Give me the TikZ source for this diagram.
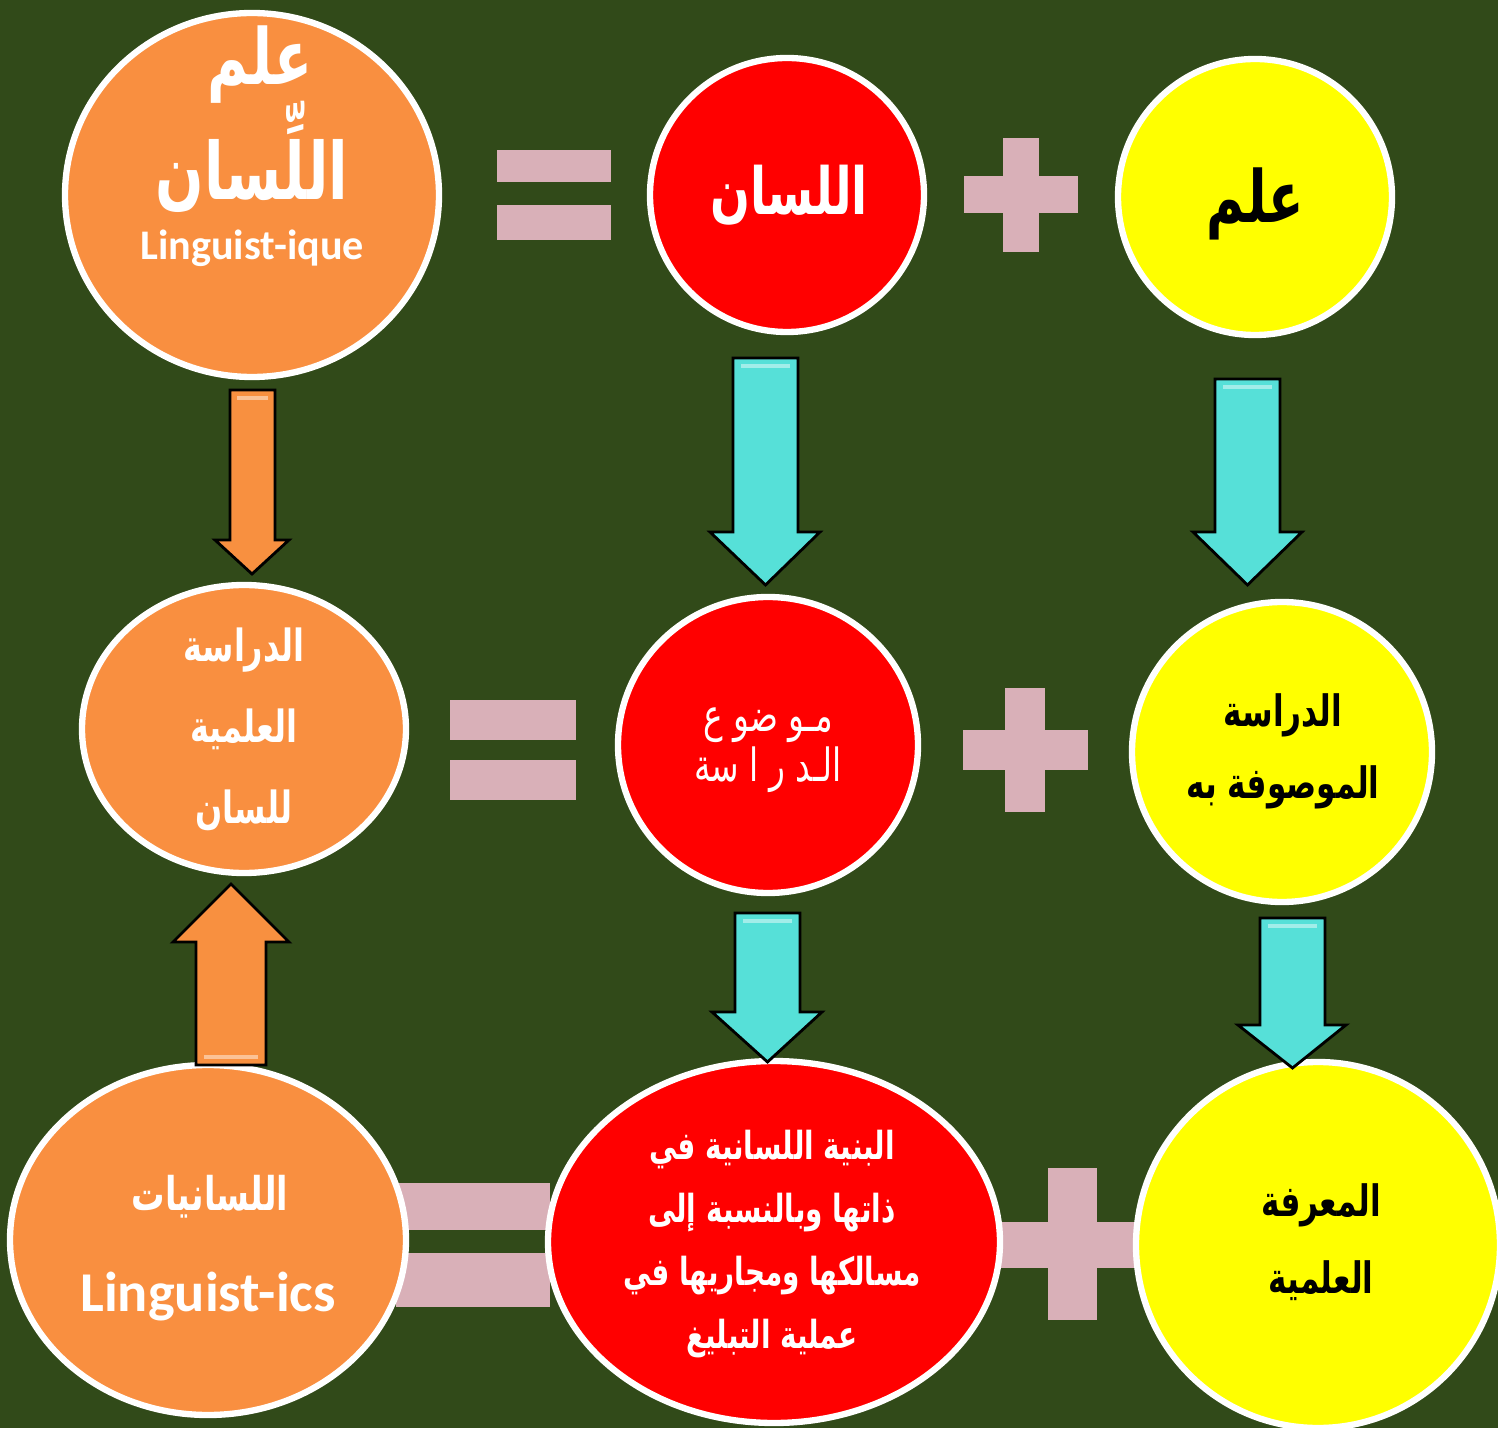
\documentclass[tikz,border=0pt]{standalone}
\usepackage{fontspec}
\setmainfont{Carlito}
\newfontfamily\arabicfont[Script=Arabic,FakeStretch=0.72]{DejaVu Sans}
\TeXXeTstate=1
\usetikzlibrary{shapes.geometric}
\definecolor{bgreen}{RGB}{49,74,25}
\definecolor{ringorange}{RGB}{249,143,64}
\definecolor{ringred}{RGB}{255,0,0}
\definecolor{ringyellow}{RGB}{255,255,0}
\definecolor{barpink}{RGB}{217,176,184}
\definecolor{arrowcyan}{RGB}{86,224,216}
\definecolor{arroworange}{RGB}{248,144,64}

\begin{document}
\begin{tikzpicture}[x=1cm,y=1cm,
  ring/.style={ellipse,draw=white,line width=1.8pt,inner sep=0pt},
  cyanarrow/.style={fill=arrowcyan,draw=black,line width=0.8pt},
  orangearrow/.style={fill=arroworange,draw=black,line width=0.8pt},
  shine/.style={draw=white,opacity=0.45,line width=1.2pt}]
  \useasboundingbox (0,0) rectangle (14.98,14.28);
  \clip (0,0) rectangle (14.98,14.28);
  \fill[bgreen] (0,0) rectangle (14.98,14.28);
  % = and + signs, behind the circles
  \fill[barpink] (4.97,12.46) rectangle (6.11,12.78); \fill[barpink] (4.97,11.88) rectangle (6.11,12.23);
  \fill[barpink] (4.50,6.88) rectangle (5.76,7.28); \fill[barpink] (4.50,6.28) rectangle (5.76,6.68);
  \fill[barpink] (3.96,1.98) rectangle (5.50,2.45); \fill[barpink] (3.96,1.21) rectangle (5.50,1.75);
  \fill[barpink] (9.64,12.15) rectangle (10.78,12.52); \fill[barpink] (10.03,11.76) rectangle (10.39,12.90);
  \fill[barpink] (9.63,6.58) rectangle (10.88,6.98); \fill[barpink] (10.05,6.16) rectangle (10.45,7.40);
  \fill[barpink] (10.00,1.60) rectangle (11.48,2.06); \fill[barpink] (10.48,1.08) rectangle (10.97,2.60);
  % top row
  \node[ring,fill=ringorange,minimum width=3.74cm,minimum height=3.64cm] (ilm) at (2.52,12.33) {};
  \node[ring,fill=ringred,minimum width=2.74cm,minimum height=2.74cm] (lisan) at (7.87,12.33) {};
  \node[ring,fill=ringyellow,minimum width=2.74cm,minimum height=2.76cm] (science) at (12.55,12.31) {};
  \node[text=white,font=\arabicfont\bfseries\fontsize{22}{26}\selectfont] (ilmword) at (2.60,13.63) {\beginR علم\endR};
  \node[text=white,font=\arabicfont\bfseries\fontsize{22.5}{26}\selectfont] (lisanword) at (2.52,12.71) {\beginR اللِّسان\endR};
  \node[text=white,font=\bfseries\fontsize{12}{14}\selectfont] (iquetext) at (2.52,11.80) {Linguist-ique};
  \node[text=white,font=\arabicfont\bfseries\fontsize{18.5}{20}\selectfont] (lisantext) at (7.89,12.33) {\beginR اللسان\endR};
  \node[text=black,font=\arabicfont\bfseries\fontsize{20.5}{24}\selectfont] (sciencetext) at (12.55,12.24) {\beginR علم\endR};
  % middle row
  \node[ring,fill=ringorange,minimum width=3.24cm,minimum height=2.88cm] (dirasa) at (2.44,6.99) {};
  \node[ring,fill=ringred,minimum width=3.00cm,minimum height=2.96cm] (mawdu) at (7.68,6.83) {};
  \node[ring,fill=ringyellow,minimum width=3.00cm,minimum height=3.00cm] (mawsufa) at (12.82,6.76) {};
  \node[text=white,align=center,font=\arabicfont\bfseries\fontsize{12.6}{23}\selectfont] (dirasatext) at (2.44,6.99)
    {\beginR الدراسة\endR\\\beginR العلمية\endR\\\beginR للسان\endR};
  \node[text=white,align=center,font=\arabicfont\fontsize{13}{10.5}\selectfont] (mawdutext) at (7.68,6.78)
    {\beginR مـو ضو ع\endR\\\beginR الـد ر ا سة\endR};
  \node[text=black,align=center,font=\arabicfont\bfseries\fontsize{12.3}{20.5}\selectfont] (mawsufatext) at (12.83,6.77)
    {\beginR الدراسة\endR\\\beginR الموصوفة به\endR};
  % bottom row
  \node[ring,fill=ringorange,minimum width=3.96cm,minimum height=3.50cm] (lisaniyat) at (2.08,1.88) {};
  \node[ring,fill=ringred,minimum width=4.52cm,minimum height=3.62cm] (binya) at (7.74,1.86) {};
  \node[ring,fill=ringyellow,minimum width=3.64cm,minimum height=3.66cm] (marifa) at (13.18,1.83) {};
  \node[text=white,font=\arabicfont\bfseries\fontsize{13.2}{16}\selectfont] (lisaniyattext) at (2.10,2.31) {\beginR اللسانيات\endR};
  \node[text=white,font=\bfseries\fontsize{16}{18}\selectfont] (icstext) at (2.08,1.31) {Linguist-ics};
  \node[text=white,align=center,font=\arabicfont\bfseries\fontsize{11}{18}\selectfont] (binyatext) at (7.72,1.84)
    {\beginR البنية اللسانية في\endR\\\beginR ذاتها وبالنسبة إلى\endR\\\beginR مسالكها ومجاريها في\endR\\\beginR عملية التبليغ\endR};
  \node[text=black,align=center,font=\arabicfont\bfseries\fontsize{12.3}{22}\selectfont] (marifatext) at (13.21,1.86)
    {\beginR المعرفة\endR\\\beginR العلمية\endR};
  % block arrows
  \draw[cyanarrow] (7.33,10.70) -- (7.98,10.70) -- (7.98,8.96) -- (8.20,8.96) -- (7.655,8.43) -- (7.10,8.96) -- (7.33,8.96) -- cycle;
  \draw[shine] (7.41,10.62) -- (7.90,10.62);
  \draw[cyanarrow] (12.15,10.49) -- (12.80,10.49) -- (12.80,8.96) -- (13.02,8.96) -- (12.475,8.43) -- (11.93,8.96) -- (12.15,8.96) -- cycle;
  \draw[shine] (12.23,10.41) -- (12.72,10.41);
  \draw[cyanarrow] (7.35,5.15) -- (8.00,5.15) -- (8.00,4.16) -- (8.22,4.16) -- (7.675,3.66) -- (7.12,4.16) -- (7.35,4.16) -- cycle;
  \draw[shine] (7.43,5.07) -- (7.92,5.07);
  \draw[cyanarrow] (12.60,5.10) -- (13.25,5.10) -- (13.25,4.03) -- (13.46,4.03) -- (12.925,3.60) -- (12.38,4.03) -- (12.60,4.03) -- cycle;
  \draw[shine] (12.68,5.02) -- (13.17,5.02);
  \draw[orangearrow] (2.30,10.38) -- (2.75,10.38) -- (2.75,8.88) -- (2.89,8.88) -- (2.52,8.54) -- (2.15,8.88) -- (2.30,8.88) -- cycle;
  \draw[shine] (2.37,10.30) -- (2.68,10.30);
  \draw[orangearrow] (1.96,3.63) -- (2.66,3.63) -- (2.66,4.86) -- (2.89,4.86) -- (2.31,5.44) -- (1.73,4.86) -- (1.96,4.86) -- cycle;
  \draw[shine] (2.04,3.71) -- (2.58,3.71);
\end{tikzpicture}
\end{document}
